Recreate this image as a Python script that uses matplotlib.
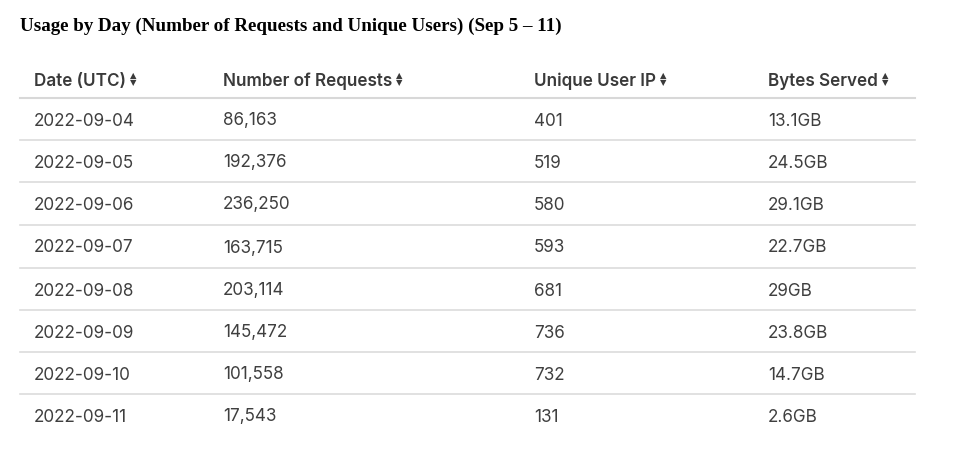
import matplotlib
matplotlib.use("Agg")
import matplotlib.pyplot as plt

title = "Usage by Day (Number of Requests and Unique Users) (Sep 5 – 11)"
headers = ["Date (UTC)", "Number of Requests", "Unique User IP", "Bytes Served"]
dates = ["2022-09-04", "2022-09-05", "2022-09-06", "2022-09-07",
         "2022-09-08", "2022-09-09", "2022-09-10", "2022-09-11"]
requests = ["86,163", "192,376", "236,250", "163,715", "203,114", "145,472", "101,558", "17,543"]
unique_ips = ["401", "519", "580", "593", "681", "736", "732", "131"]
bytes_served = ["13.1GB", "24.5GB", "29.1GB", "22.7GB", "29GB", "23.8GB", "14.7GB", "2.6GB"]

W, H = 972, 450
fig = plt.figure(figsize=(W/100, H/100), dpi=100)
ax = fig.add_axes([0, 0, 1, 1])
ax.set_xlim(0, W); ax.set_ylim(H, 0); ax.axis("off")

ax.text(20, 26, title, fontfamily="Liberation Serif", fontweight="bold",
        fontsize=13.7, va="center", ha="left", color="#000")

colx = [34, 223, 534, 768]
hdr_y = 79
for x, h in zip(colx, headers):
    t = ax.text(x, hdr_y, h, fontfamily="Inter", fontweight="semibold", fontsize=12.3,
                va="center_baseline", ha="left", color="#3a3a3a")
    fig.canvas.draw()
    bb = t.get_window_extent()
    xe = bb.x1 + 4
    ax.text(xe, hdr_y - 3.5, "▲", fontsize=6, ha="left", va="center", color="#3a3a3a", fontfamily="DejaVu Sans")
    ax.text(xe, hdr_y + 3.5, "▼", fontsize=6, ha="left", va="center", color="#3a3a3a", fontfamily="DejaVu Sans")

lines_y = [98, 140, 182, 225, 268, 310, 352, 394]
ax.plot([20, 915], [lines_y[0]]*2, color="#d8d8d8", lw=1.5)
cols = [dates, requests, unique_ips, bytes_served]
for i in range(len(dates)):
    yc = lines_y[i] + 21
    for x, c in zip(colx, cols):
        ax.text(x, yc, c[i], fontfamily="Inter", fontsize=12.3, va="center_baseline",
                ha="left", color="#3f3f3f")
    if i + 1 < len(lines_y):
        ax.plot([20, 915], [lines_y[i+1]]*2, color="#dcdcdc", lw=1.2)

fig.savefig("out.png", dpi=100, facecolor="white")
